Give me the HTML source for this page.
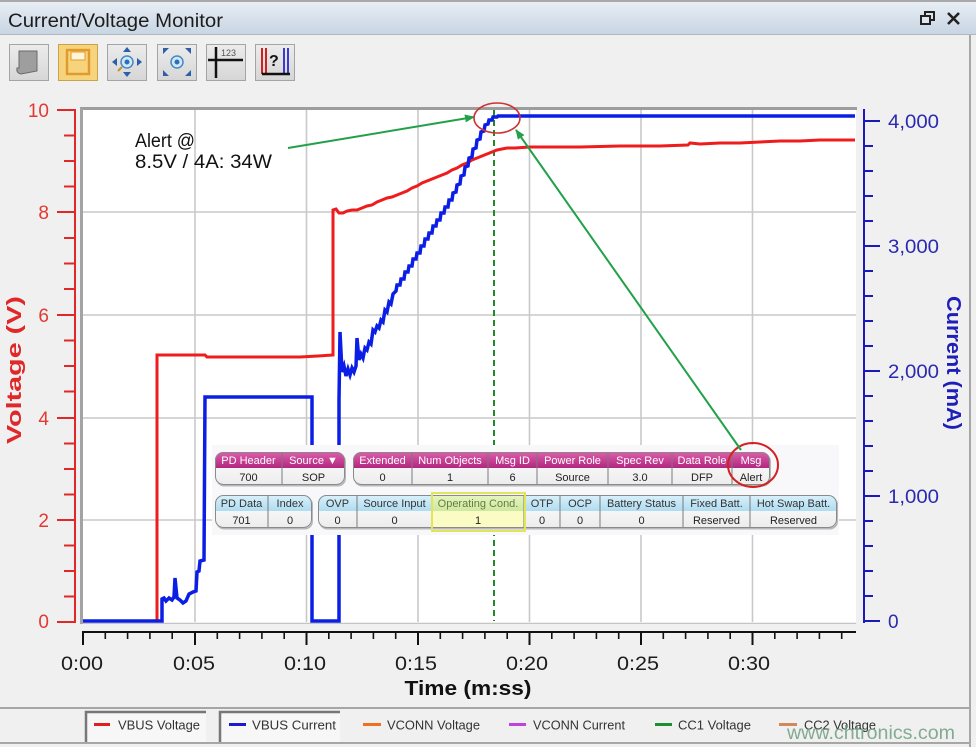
<!DOCTYPE html>
<html><head><meta charset="utf-8"><style>
html,body{margin:0;padding:0;background:#f0f0f0;}
svg{display:block;font-family:"Liberation Sans",Arial,sans-serif;}
</style></head><body>
<svg width="976" height="747" viewBox="0 0 976 747" xmlns="http://www.w3.org/2000/svg">
<defs>
<linearGradient id="tb" x1="0" y1="0" x2="0" y2="1"><stop offset="0" stop-color="#eaeff5"/><stop offset="1" stop-color="#c8d5e3"/></linearGradient>
<linearGradient id="btn" x1="0" y1="0" x2="0" y2="1"><stop offset="0" stop-color="#ececec"/><stop offset="1" stop-color="#d6d6d6"/></linearGradient>
<linearGradient id="mag" x1="0" y1="0" x2="0" y2="1"><stop offset="0" stop-color="#dc5eaa"/><stop offset="1" stop-color="#b22780"/></linearGradient>
<linearGradient id="lb" x1="0" y1="0" x2="0" y2="1"><stop offset="0" stop-color="#daf1fb"/><stop offset="1" stop-color="#afdcf1"/></linearGradient>
<linearGradient id="yg" x1="0" y1="0" x2="0" y2="1"><stop offset="0" stop-color="#e6f5c0"/><stop offset="1" stop-color="#cde9a0"/></linearGradient>
<linearGradient id="val" x1="0" y1="0" x2="0" y2="1"><stop offset="0" stop-color="#ffffff"/><stop offset="1" stop-color="#ececec"/></linearGradient>
<clipPath id="gA"><rect x="215" y="452" width="130" height="33" rx="8"/></clipPath>
<clipPath id="gB"><rect x="353" y="452" width="417" height="33" rx="8"/></clipPath>
<clipPath id="gC"><rect x="215" y="495" width="97" height="33" rx="8"/></clipPath>
<clipPath id="gD"><rect x="318" y="495" width="519" height="33" rx="8"/></clipPath>
<marker id="ah" markerWidth="10" markerHeight="8" refX="9" refY="4" orient="auto" markerUnits="userSpaceOnUse"><path d="M0,0 L10,4 L0,8 z" fill="#22a04a"/></marker>
</defs>

<rect width="976" height="747" fill="#f0f0f0"/>

<!-- title bar -->
<rect x="0" y="0" width="976" height="34" fill="url(#tb)"/>
<line x1="0" y1="1" x2="976" y2="1" stroke="#a9a9a9" stroke-width="2"/>
<line x1="0" y1="34.5" x2="976" y2="34.5" stroke="#b0b8c2"/>
<text x="8" y="27" font-size="19.5" fill="#1c1c1c" textLength="215" lengthAdjust="spacingAndGlyphs">Current/Voltage Monitor</text>
<rect x="925" y="12" width="9" height="8" fill="none" stroke="#222" stroke-width="2"/>
<rect x="921" y="16" width="9" height="8" fill="#dfe6ee" stroke="#222" stroke-width="2"/>
<path d="M948,13 L959,24 M959,13 L948,24" stroke="#222" stroke-width="2.6"/>
<line x1="970" y1="35" x2="970" y2="747" stroke="#a8a8a8" stroke-width="2"/>

<!-- toolbar -->
<g stroke="#a4a4a4" stroke-width="1">
<rect x="9.5" y="44.5" width="39" height="36" fill="url(#btn)"/>
<rect x="58.5" y="44.5" width="39" height="36" fill="#f6d47e" stroke="#c9a24a"/>
<rect x="107.5" y="44.5" width="39" height="36" fill="url(#btn)"/>
<rect x="157.5" y="44.5" width="39" height="36" fill="url(#btn)"/>
<rect x="206.5" y="44.5" width="39" height="36" fill="url(#btn)"/>
<rect x="255.5" y="44.5" width="39" height="36" fill="url(#btn)"/>
</g>
<path d="M19,51 L37,51 L37,71 L21,74 Q16,73 17,68 L19,68 Z" fill="#9e9e9e" stroke="#6a6a6a"/>
<rect x="67" y="50" width="22" height="24" fill="none" stroke="#e39a2c" stroke-width="2.5"/>
<rect x="71" y="52" width="14" height="8" fill="#fff5d8" stroke="#e39a2c"/>
<circle cx="127" cy="62" r="6" fill="#cfe8f8" stroke="#4a88c2" stroke-width="1.5"/>
<circle cx="127" cy="62" r="2.5" fill="#2f6fb8"/>
<path d="M127,47 l-4,5 h8 z M127,77 l-4,-5 h8 z M112,62 l5,-4 v8 z M142,62 l-5,-4 v8 z" fill="#2c5fa8"/>
<line x1="118" y1="71" x2="122" y2="67" stroke="#c8902a" stroke-width="2"/>
<circle cx="177" cy="62" r="6" fill="#cfe8f8" stroke="#4a88c2" stroke-width="1.5"/>
<circle cx="177" cy="62" r="2.5" fill="#2f6fb8"/>
<path d="M163,48 h6 l-6,6 z M191,48 h-6 l6,6 z M163,76 h6 l-6,-6 z M191,76 h-6 l6,-6 z" fill="#2c5fa8"/>
<line x1="216" y1="47" x2="216" y2="78" stroke="#111" stroke-width="2.5"/>
<line x1="208" y1="60" x2="243" y2="60" stroke="#111" stroke-width="2.5"/>
<text x="221" y="56" font-size="9" fill="#555">123</text>
<path d="M262,48 v26 M266,48 v26" stroke="#d02020" stroke-width="2"/>
<path d="M284,48 v26 M288,48 v26" stroke="#3a3ad0" stroke-width="2"/>
<text x="269" y="66" font-size="16" font-weight="bold" fill="#111">?</text>
<path d="M262,74 H290" stroke="#111" stroke-width="2.5"/>

<!-- plot area -->
<rect x="83" y="110" width="773" height="512" fill="#ffffff"/>
<g stroke="#c9c9c9" stroke-width="1.6">
<line x1="83" y1="212" x2="856" y2="212"/>
<line x1="83" y1="315" x2="856" y2="315"/>
<line x1="83" y1="418" x2="856" y2="418"/>
<line x1="83" y1="520" x2="856" y2="520"/>
<line x1="195" y1="110" x2="195" y2="622"/>
<line x1="306.5" y1="110" x2="306.5" y2="622"/>
<line x1="418" y1="110" x2="418" y2="622"/>
<line x1="529.5" y1="110" x2="529.5" y2="622"/>
<line x1="641" y1="110" x2="641" y2="622"/>
<line x1="752.5" y1="110" x2="752.5" y2="622"/>
</g>
<line x1="80" y1="108.5" x2="857" y2="108.5" stroke="#9d9d9d" stroke-width="3"/>
<line x1="81.5" y1="108" x2="81.5" y2="624" stroke="#a3a3a3" stroke-width="3"/>
<line x1="83" y1="623.5" x2="856" y2="623.5" stroke="#c4c4c4" stroke-width="1"/>

<!-- green dashed cursor -->
<line x1="494" y1="110" x2="494" y2="621" stroke="#1f8a2a" stroke-width="2" stroke-dasharray="6,4"/>

<!-- red VBUS voltage -->
<polyline fill="none" stroke="#ee1c1c" stroke-width="3" stroke-linejoin="miter" points="83,621 157,621 157,355 205,355 207,357 300,357 318,356 333,355 333,210 336,209 339,213 343,213 347,211 352,210 357,210 362,208 367,206 372,205 377,202 382,200 387,198 392,197 397,195 402,193 407,191 412,188 417,186 422,183 427,181 432,179 437,177 442,175 447,173 452,170 457,168 462,165 467,163 472,160 477,158 482,156 487,154 492,152 497,150 502,149 507,148 515,148 530,147 550,147 580,147 620,146 660,146 688,145 690,143 700,144 720,143 740,143 760,142 780,141 800,141 820,140 840,140 855,140"/>

<!-- blue VBUS current -->
<polyline fill="none" stroke="#0a1ee6" stroke-width="3.5" stroke-linejoin="miter" points="83,621 162,621 162,599 164,598 166,601 169,598 172,600 174,597 175,578 177,598 180,600 183,603 186,601 189,594 193,592 196,591 197,572 199,571 200,561 204,560 205,397 312,397 312,621 339,621 339,400 340,332 342,372 344,366 346,376 348,369 350,375 352,368 354,372 356,366 357,338 359,360 361,354 363,358 365,348 367,350 369,342 371,344 373,330 375,332 377,326 379,328 381,320 383,322 385,310 387,312 389,302 391,304 393,294 396,291 397,285 400,285 401,279 404,279 405,272 408,272 409,266 412,266 413,259 416,259 417,253 420,253 421,246 424,246 425,239 428,239 429,233 432,233 433,226 436,226 437,220 440,220 441,213 444,213 445,207 448,207 449,200 452,200 453,193 456,192 457,185 460,184 461,176 464,175 465,167 468,166 469,158 472,157 473,149 476,148 477,140 480,139 481,132 484,131 485,125 488,124 489,120 492,120 493,117 497,117 498,116 855,116"/>

<!-- left axis -->
<line x1="75" y1="109" x2="75" y2="623" stroke="#e02828" stroke-width="2"/>
<g stroke="#e02828" stroke-width="2">
<line x1="57" y1="110" x2="75" y2="110"/><line x1="57" y1="212" x2="75" y2="212"/><line x1="57" y1="315" x2="75" y2="315"/><line x1="57" y1="418" x2="75" y2="418"/><line x1="57" y1="520" x2="75" y2="520"/><line x1="57" y1="622" x2="75" y2="622"/>
<line x1="64" y1="135.5" x2="75" y2="135.5"/><line x1="64" y1="161" x2="75" y2="161"/><line x1="64" y1="186.5" x2="75" y2="186.5"/>
<line x1="64" y1="238" x2="75" y2="238"/><line x1="64" y1="263.5" x2="75" y2="263.5"/><line x1="64" y1="289" x2="75" y2="289"/>
<line x1="64" y1="340.5" x2="75" y2="340.5"/><line x1="64" y1="366" x2="75" y2="366"/><line x1="64" y1="391.5" x2="75" y2="391.5"/>
<line x1="64" y1="443.5" x2="75" y2="443.5"/><line x1="64" y1="469" x2="75" y2="469"/><line x1="64" y1="494.5" x2="75" y2="494.5"/>
<line x1="64" y1="545.5" x2="75" y2="545.5"/><line x1="64" y1="571" x2="75" y2="571"/><line x1="64" y1="596.5" x2="75" y2="596.5"/>
</g>
<g font-size="19" fill="#e23a32" text-anchor="end">
<text x="49" y="117">10</text><text x="49" y="219">8</text><text x="49" y="322">6</text><text x="49" y="425">4</text><text x="49" y="527">2</text><text x="49" y="628">0</text>
</g>
<text transform="translate(21,370) rotate(-90)" text-anchor="middle" font-size="20" font-weight="bold" fill="#e02828" textLength="148" lengthAdjust="spacingAndGlyphs">Voltage (V)</text>

<!-- right axis -->
<line x1="864" y1="109" x2="864" y2="623" stroke="#1a1ab8" stroke-width="2"/>
<g stroke="#1a1ab8" stroke-width="2">
<line x1="864" y1="121" x2="880" y2="121"/><line x1="864" y1="246" x2="880" y2="246"/><line x1="864" y1="371" x2="880" y2="371"/><line x1="864" y1="496" x2="880" y2="496"/><line x1="864" y1="621" x2="880" y2="621"/>
<line x1="864" y1="146" x2="873" y2="146"/><line x1="864" y1="171" x2="873" y2="171"/><line x1="864" y1="196" x2="873" y2="196"/><line x1="864" y1="221" x2="873" y2="221"/>
<line x1="864" y1="271" x2="873" y2="271"/><line x1="864" y1="296" x2="873" y2="296"/><line x1="864" y1="321" x2="873" y2="321"/><line x1="864" y1="346" x2="873" y2="346"/>
<line x1="864" y1="396" x2="873" y2="396"/><line x1="864" y1="421" x2="873" y2="421"/><line x1="864" y1="446" x2="873" y2="446"/><line x1="864" y1="471" x2="873" y2="471"/>
<line x1="864" y1="521" x2="873" y2="521"/><line x1="864" y1="546" x2="873" y2="546"/><line x1="864" y1="571" x2="873" y2="571"/><line x1="864" y1="596" x2="873" y2="596"/>
</g>
<g font-size="19" fill="#2a2ab2">
<text x="888" y="128" textLength="51" lengthAdjust="spacingAndGlyphs">4,000</text>
<text x="888" y="253" textLength="51" lengthAdjust="spacingAndGlyphs">3,000</text>
<text x="888" y="378" textLength="51" lengthAdjust="spacingAndGlyphs">2,000</text>
<text x="888" y="503" textLength="51" lengthAdjust="spacingAndGlyphs">1,000</text>
<text x="888" y="628">0</text>
</g>
<text transform="translate(947,363) rotate(90)" text-anchor="middle" font-size="20" font-weight="bold" fill="#1e1eb8" textLength="134" lengthAdjust="spacingAndGlyphs">Current (mA)</text>

<!-- x axis -->
<line x1="82" y1="632" x2="856" y2="632" stroke="#111" stroke-width="2"/>
<g stroke="#111" stroke-width="2">
<line x1="83" y1="632" x2="83" y2="645"/><line x1="195" y1="632" x2="195" y2="645"/><line x1="306.5" y1="632" x2="306.5" y2="645"/><line x1="418" y1="632" x2="418" y2="645"/><line x1="529.5" y1="632" x2="529.5" y2="645"/><line x1="641" y1="632" x2="641" y2="645"/><line x1="752.5" y1="632" x2="752.5" y2="645"/>
</g>
<g stroke="#111" stroke-width="1.6">
<line x1="105.3" y1="632" x2="105.3" y2="639"/><line x1="127.6" y1="632" x2="127.6" y2="639"/><line x1="149.9" y1="632" x2="149.9" y2="639"/><line x1="172.2" y1="632" x2="172.2" y2="639"/>
<line x1="217.3" y1="632" x2="217.3" y2="639"/><line x1="239.6" y1="632" x2="239.6" y2="639"/><line x1="261.9" y1="632" x2="261.9" y2="639"/><line x1="284.2" y1="632" x2="284.2" y2="639"/>
<line x1="328.8" y1="632" x2="328.8" y2="639"/><line x1="351.1" y1="632" x2="351.1" y2="639"/><line x1="373.4" y1="632" x2="373.4" y2="639"/><line x1="395.7" y1="632" x2="395.7" y2="639"/>
<line x1="440.3" y1="632" x2="440.3" y2="639"/><line x1="462.6" y1="632" x2="462.6" y2="639"/><line x1="484.9" y1="632" x2="484.9" y2="639"/><line x1="507.2" y1="632" x2="507.2" y2="639"/>
<line x1="551.8" y1="632" x2="551.8" y2="639"/><line x1="574.1" y1="632" x2="574.1" y2="639"/><line x1="596.4" y1="632" x2="596.4" y2="639"/><line x1="618.7" y1="632" x2="618.7" y2="639"/>
<line x1="663.3" y1="632" x2="663.3" y2="639"/><line x1="685.6" y1="632" x2="685.6" y2="639"/><line x1="707.9" y1="632" x2="707.9" y2="639"/><line x1="730.2" y1="632" x2="730.2" y2="639"/>
<line x1="774.8" y1="632" x2="774.8" y2="639"/><line x1="797.1" y1="632" x2="797.1" y2="639"/><line x1="819.4" y1="632" x2="819.4" y2="639"/><line x1="841.7" y1="632" x2="841.7" y2="639"/>
</g>
<g font-size="19" fill="#1c1c1c" text-anchor="middle">
<text x="82" y="670" textLength="42" lengthAdjust="spacingAndGlyphs">0:00</text>
<text x="194" y="670" textLength="42" lengthAdjust="spacingAndGlyphs">0:05</text>
<text x="305" y="670" textLength="42" lengthAdjust="spacingAndGlyphs">0:10</text>
<text x="416" y="670" textLength="42" lengthAdjust="spacingAndGlyphs">0:15</text>
<text x="527" y="670" textLength="42" lengthAdjust="spacingAndGlyphs">0:20</text>
<text x="638" y="670" textLength="42" lengthAdjust="spacingAndGlyphs">0:25</text>
<text x="749" y="670" textLength="42" lengthAdjust="spacingAndGlyphs">0:30</text>
</g>
<text x="468" y="695" text-anchor="middle" font-size="20" font-weight="bold" fill="#111" textLength="127" lengthAdjust="spacingAndGlyphs">Time (m:ss)</text>

<!-- annotation text & arrows -->
<text x="135" y="147" font-size="19" fill="#111" textLength="60" lengthAdjust="spacingAndGlyphs">Alert @</text>
<text x="135" y="168" font-size="19" fill="#111" textLength="137" lengthAdjust="spacingAndGlyphs">8.5V / 4A:  34W</text>
<line x1="288" y1="148" x2="474" y2="117" stroke="#22a04a" stroke-width="2" marker-end="url(#ah)"/>
<ellipse cx="497" cy="118" rx="23" ry="15" fill="none" stroke="#cc3333" stroke-width="1.6"/>

<!-- PD table panel -->
<rect x="212" y="445" width="627" height="90" fill="#f8f8fa"/>

<!-- group A -->
<rect x="216" y="453.5" width="130" height="33" rx="8" fill="#b8b8b8"/>
<g clip-path="url(#gA)">
<rect x="215" y="452" width="130" height="33" fill="url(#val)"/>
<rect x="215" y="452" width="130" height="16" fill="url(#mag)"/>
<line x1="282" y1="452" x2="282" y2="485" stroke="#7a7a7a"/>
</g>
<rect x="215.5" y="452.5" width="129" height="32" rx="8" fill="none" stroke="#8a8a8a"/>
<!-- group B -->
<rect x="354" y="453.5" width="417" height="33" rx="8" fill="#b8b8b8"/>
<g clip-path="url(#gB)">
<rect x="353" y="452" width="417" height="33" fill="url(#val)"/>
<rect x="353" y="452" width="417" height="16" fill="url(#mag)"/>
<g stroke="#7a7a7a"><line x1="412" y1="452" x2="412" y2="485"/><line x1="488" y1="452" x2="488" y2="485"/><line x1="537" y1="452" x2="537" y2="485"/><line x1="608" y1="452" x2="608" y2="485"/><line x1="672" y1="452" x2="672" y2="485"/><line x1="732" y1="452" x2="732" y2="485"/></g>
</g>
<rect x="353.5" y="452.5" width="416" height="32" rx="8" fill="none" stroke="#8a8a8a"/>
<g font-size="11" fill="#ffffff" text-anchor="middle">
<text x="248.5" y="464">PD Header</text><text x="313.5" y="464">Source ▼</text>
<text x="382.5" y="464">Extended</text><text x="450" y="464">Num Objects</text><text x="512.5" y="464">Msg ID</text><text x="572.5" y="464">Power Role</text><text x="640" y="464">Spec Rev</text><text x="702" y="464">Data Role</text><text x="751" y="464">Msg</text>
</g>
<g font-size="11" fill="#222" text-anchor="middle">
<text x="248.5" y="481">700</text><text x="313.5" y="481">SOP</text>
<text x="382.5" y="481">0</text><text x="450" y="481">1</text><text x="512.5" y="481">6</text><text x="572.5" y="481">Source</text><text x="640" y="481">3.0</text><text x="702" y="481">DFP</text><text x="751" y="481">Alert</text>
</g>

<!-- group C -->
<rect x="216" y="496.5" width="97" height="33" rx="8" fill="#b8b8b8"/>
<g clip-path="url(#gC)">
<rect x="215" y="495" width="97" height="33" fill="url(#val)"/>
<rect x="215" y="495" width="97" height="16" fill="url(#lb)"/>
<line x1="268" y1="495" x2="268" y2="528" stroke="#7a7a7a"/>
</g>
<rect x="215.5" y="495.5" width="96" height="32" rx="8" fill="none" stroke="#8a8a8a"/>
<!-- group D -->
<rect x="319" y="496.5" width="519" height="33" rx="8" fill="#b8b8b8"/>
<g clip-path="url(#gD)">
<rect x="318" y="495" width="519" height="33" fill="url(#val)"/>
<rect x="318" y="495" width="519" height="16" fill="url(#lb)"/>
<rect x="432" y="495" width="92" height="16" fill="url(#yg)"/>
<rect x="432" y="511" width="92" height="17" fill="#fbfbc4"/>
<g stroke="#7a7a7a"><line x1="357" y1="495" x2="357" y2="528"/><line x1="432" y1="495" x2="432" y2="528"/><line x1="524" y1="495" x2="524" y2="528"/><line x1="560" y1="495" x2="560" y2="528"/><line x1="600" y1="495" x2="600" y2="528"/><line x1="683" y1="495" x2="683" y2="528"/><line x1="750" y1="495" x2="750" y2="528"/></g>
</g>
<rect x="318.5" y="495.5" width="518" height="32" rx="8" fill="none" stroke="#8a8a8a"/>
<rect x="432" y="493" width="93" height="38" fill="none" stroke="#e4e45a" stroke-width="2"/>
<g font-size="11" fill="#333" text-anchor="middle">
<text x="241.5" y="507">PD Data</text><text x="290" y="507">Index</text>
<text x="337.5" y="507">OVP</text><text x="394.5" y="507">Source Input</text><text x="478" y="507" fill="#6a7a40">Operating Cond.</text><text x="542" y="507">OTP</text><text x="580" y="507">OCP</text><text x="641.5" y="507">Battery Status</text><text x="716.5" y="507">Fixed Batt.</text><text x="793.5" y="507">Hot Swap Batt.</text>
</g>
<g font-size="11" fill="#222" text-anchor="middle">
<text x="241.5" y="524">701</text><text x="290" y="524">0</text>
<text x="337.5" y="524">0</text><text x="394.5" y="524">0</text><text x="478" y="524">1</text><text x="542" y="524">0</text><text x="580" y="524">0</text><text x="641.5" y="524">0</text><text x="716.5" y="524">Reserved</text><text x="793.5" y="524">Reserved</text>
</g>

<ellipse cx="753" cy="465" rx="25" ry="22" fill="none" stroke="#d42020" stroke-width="2"/>
<line x1="741" y1="450" x2="516" y2="130" stroke="#22a04a" stroke-width="2" marker-end="url(#ah)"/>

<!-- bottom legend -->
<line x1="0" y1="708" x2="970" y2="708" stroke="#a6a6a6" stroke-width="2"/>
<line x1="0" y1="743" x2="970" y2="743" stroke="#a6a6a6" stroke-width="2"/>
<rect x="85" y="711" width="121" height="31" fill="#f7f7f7"/>
<path d="M86,742 V712 H206" fill="none" stroke="#777" stroke-width="2.5"/>
<rect x="219" y="711" width="121" height="31" fill="#f7f7f7"/>
<path d="M220,742 V712 H340" fill="none" stroke="#777" stroke-width="2.5"/>
<g stroke-width="3">
<line x1="94" y1="724.5" x2="110" y2="724.5" stroke="#e01e1e"/>
<line x1="229" y1="724.5" x2="246" y2="724.5" stroke="#1a1ad0"/>
<line x1="363" y1="724.5" x2="381" y2="724.5" stroke="#f07020"/>
<line x1="509" y1="724.5" x2="526" y2="724.5" stroke="#c040e0"/>
<line x1="655" y1="724.5" x2="672" y2="724.5" stroke="#1a9030"/>
<line x1="779" y1="724.5" x2="797" y2="724.5" stroke="#d08a5a"/>
</g>
<g font-size="13" fill="#333">
<text x="118" y="729.5" textLength="82" lengthAdjust="spacingAndGlyphs">VBUS Voltage</text>
<text x="252" y="729.5" textLength="84" lengthAdjust="spacingAndGlyphs">VBUS Current</text>
<text x="387" y="729.5" textLength="93" lengthAdjust="spacingAndGlyphs">VCONN Voltage</text>
<text x="533" y="729.5" textLength="92" lengthAdjust="spacingAndGlyphs">VCONN Current</text>
<text x="678" y="729.5" textLength="73" lengthAdjust="spacingAndGlyphs">CC1 Voltage</text>
<text x="804" y="729.5" textLength="72" lengthAdjust="spacingAndGlyphs">CC2 Voltage</text>
</g>
<text x="787" y="739" font-size="19" fill="#6f9f80" fill-opacity="0.85" textLength="168" lengthAdjust="spacingAndGlyphs">www.chtronics.com</text>
</svg>
</body></html>
